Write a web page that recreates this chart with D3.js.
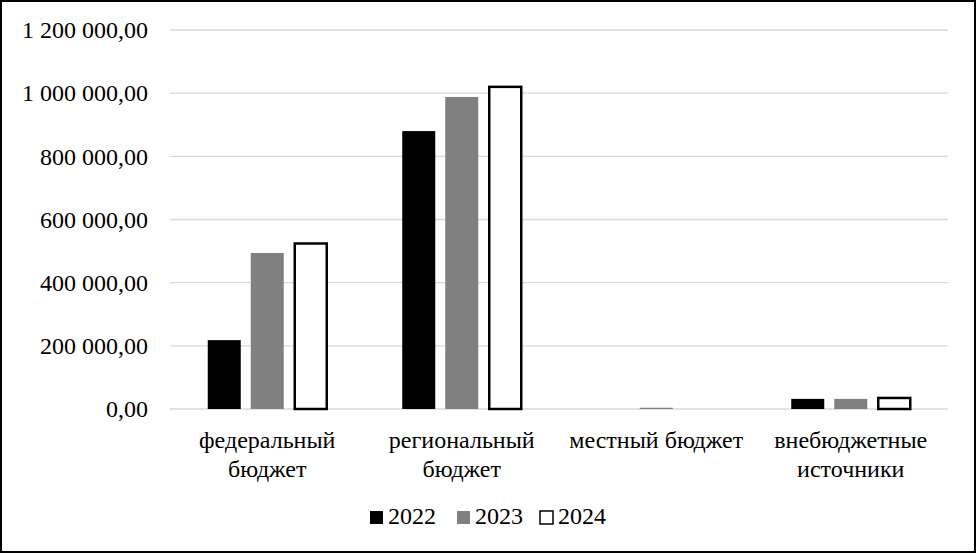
<!DOCTYPE html>
<html><head><meta charset="utf-8">
<script src="https://cdn.jsdelivr.net/npm/d3@7"></script>
<style>
html,body{margin:0;padding:0;background:#fff;}
svg{display:block;}
</style></head><body>
<svg id="c" width="976" height="553"></svg>
<script>
const categories = [["федеральный","бюджет"],["региональный","бюджет"],["местный бюджет"],["внебюджетные","источники"]];
const seriesNames = ["2022","2023","2024"];
const v2022 = [218000, 880000, 0, 32000];
const v2023 = [494000, 988000, 4000, 32000];
const v2024 = [524000, 1020000, 0, 35000];
const tickValues = [0,200000,400000,600000,800000,1000000,1200000];
const tickLabels = ["0,00","200 000,00","400 000,00","600 000,00","800 000,00","1 000 000,00","1 200 000,00"];

const FONT = '"Liberation Serif"';
const series = [v2022, v2023, v2024];
const fills = ["#000000","#808080","#ffffff"];
const strokes = ["none","none","#000000"];

const svg = d3.select("#c");
svg.append("rect").attr("x",1).attr("y",1).attr("width",974).attr("height",551)
  .attr("fill","#fff").attr("stroke","#000").attr("stroke-width",2);

const pL=170, pR=948, pT=30, pB=409;
const x = d3.scaleBand().domain(d3.range(categories.length)).range([pL,pR]).paddingInner(0).paddingOuter(0);
const y = d3.scaleLinear().domain([0,1200000]).range([pB,pT]);
const bw = 33, gap = 10;

svg.append("g").selectAll("line").data(tickValues).join("line")
  .attr("x1",pL).attr("x2",pR).attr("y1",d=>y(d)).attr("y2",d=>y(d))
  .attr("stroke","#d9d9d9").attr("stroke-width",1.3);

const yAxis = d3.axisLeft(y).tickValues(tickValues).tickFormat((d,i)=>tickLabels[i]).tickSize(0).tickPadding(22);
const ga = svg.append("g").attr("transform",`translate(${pL},0)`).call(yAxis);
ga.select(".domain").remove();
ga.selectAll("text").attr("fill","#000").style("font-family",FONT).style("font-size","24px");

series.forEach((s,si)=>{
  svg.append("g").selectAll("rect").data(s).join("rect")
    .attr("x",(d,i)=>x(i)+x.bandwidth()/2 - (bw*1.5+gap) + si*(bw+gap) + (si===2?1:0))
    .attr("width",si===2?bw-1:bw)
    .attr("y",d=>y(d))
    .attr("height",d=>Math.max(0,pB-y(d)))
    .attr("fill",fills[si]).attr("stroke",strokes[si]).attr("stroke-width",2.5);
});

const gl = svg.append("g");
categories.forEach((lines,i)=>{
  const t = gl.append("text").attr("x",x(i)+x.bandwidth()/2).attr("y",448)
    .attr("text-anchor","middle").attr("fill","#000")
    .style("font-family",FONT).style("font-size","24px");
  lines.forEach((l,j)=>t.append("tspan").attr("x",x(i)+x.bandwidth()/2).attr("dy",j===0?0:29).text(l));
});

const legX = [370, 457, 540];
seriesNames.forEach((n,i)=>{
  const g = svg.append("g").attr("transform",`translate(${legX[i]},524)`);
  g.append("rect").attr("x",0).attr("y",-13).attr("width",13).attr("height",13)
    .attr("fill",fills[i]).attr("stroke",strokes[i]).attr("stroke-width",1.5);
  g.append("text").attr("x",18).attr("y",0).attr("fill","#000")
    .style("font-family",FONT).style("font-size","24px").text(n);
});
</script>
</body></html>
